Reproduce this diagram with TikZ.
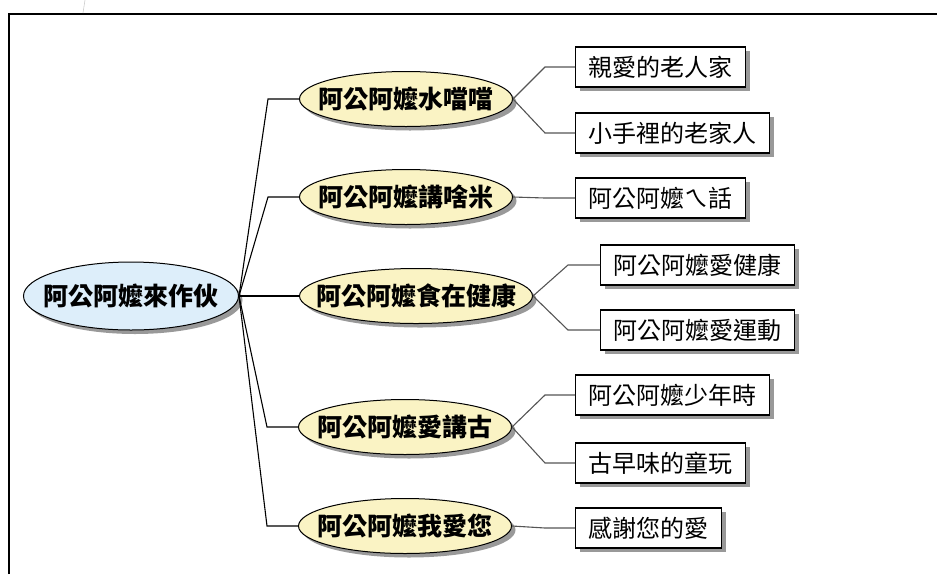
\documentclass[tikz,border=0pt]{standalone}
\usepackage{fontspec}
\setmainfont{Noto Sans CJK TC}
\usetikzlibrary{shapes.geometric,shadows}
\definecolor{rootblue}{HTML}{DDEEFA}
\definecolor{topicyellow}{HTML}{FAF3C4}
\definecolor{twiggray}{HTML}{555555}
\newcommand{\ctr}[1]{\makebox[0pt]{#1}}

\begin{document}
\begin{tikzpicture}[x=1pt, y=-1pt,
  shade/.style={drop shadow={shadow xshift=4pt, shadow yshift=-4pt, fill=black!40, opacity=1}},
  rootnode/.style={ellipse, draw, line width=1pt, fill=rootblue, minimum width=215pt, minimum height=68pt, inner sep=0pt, font=\fontsize{25}{25}\selectfont\bfseries, shade},
  topic/.style={ellipse, draw, line width=1pt, fill=topicyellow, minimum width=213pt, minimum height=55pt, inner sep=0pt, font=\fontsize{25}{25}\selectfont\bfseries, shade},
  leaf/.style={rectangle, draw, line width=1.2pt, fill=white, minimum height=40pt, inner xsep=13pt, anchor=west, font=\fontsize{24}{24}\selectfont, shade},
  trunk/.style={line width=1.1pt},
  twig/.style={draw=twiggray, line width=1.1pt}]
	\useasboundingbox (0,0) rectangle (937,574);
	% frame
	\draw[line width=2pt] (9,574) -- (9,14) -- (937,14);
	\draw[black!20, line width=0.6pt] (85,0) -- (83,13);

	\node[rootnode] (root) at (131,296) {\ctr{阿公阿嬤來作伙}};

	\node[topic] (water) at (406,99) {\ctr{阿公阿嬤水噹噹}};
	\node[topic] (talk) at (406,197) {\ctr{阿公阿嬤講啥米}};
	\node[topic, minimum width=233pt] (food) at (416,296) {\ctr{阿公阿嬤食在健康}};
	\node[topic] (story) at (405,427) {\ctr{阿公阿嬤愛講古}};
	\node[topic] (love) at (405,526) {\ctr{阿公阿嬤我愛您}};

	\node[leaf] (dear) at (575,67) {親愛的老人家};
	\node[leaf] (hand) at (575,133) {小手裡的老家人};
	\node[leaf] (words) at (575,198) {阿公阿嬤ㄟ話};
	\node[leaf] (health) at (600,265) {阿公阿嬤愛健康};
	\node[leaf] (sport) at (600,330) {阿公阿嬤愛運動};
	\node[leaf] (young) at (575,395) {阿公阿嬤少年時};
	\node[leaf] (toys) at (575,463) {古早味的童玩};
	\node[leaf] (thanks) at (575,528) {感謝您的愛};

	\foreach \t in {water,talk,food,story,love}
		\draw[trunk] (root.east) -- ([xshift=-31pt]\t.west) -- (\t.west);
	\foreach \t/\l in {water/dear, water/hand, talk/words, story/young, story/toys, love/thanks}
		\draw[twig] (\t.east) -- ([xshift=-30pt]\l.west) -- (\l.west);
	\foreach \l in {health,sport}
		\draw[twig] (food.east) -- ([xshift=-32pt]\l.west) -- (\l.west);
\end{tikzpicture}
\end{document}
